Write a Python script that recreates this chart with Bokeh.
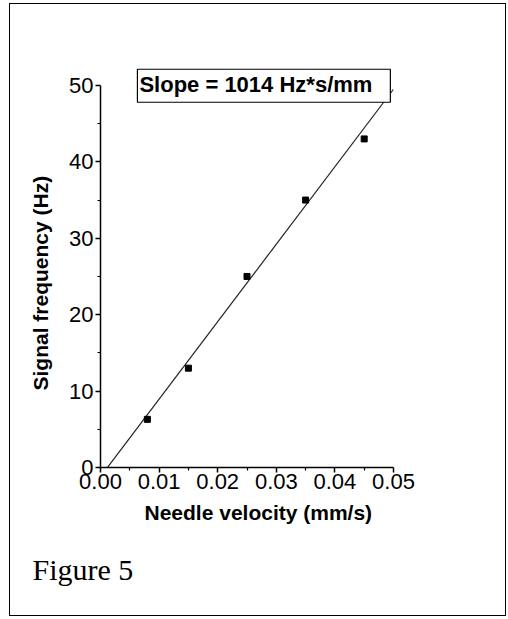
from bokeh.plotting import figure
from bokeh.models import Label, Title, FixedTicker, Range1d, NumeralTickFormatter
from bokeh.embed import file_html
from bokeh.resources import INLINE

# Data
velocity = [0.008, 0.015, 0.025, 0.035, 0.045]      # mm/s
frequency = [6.3, 13.0, 25.0, 35.0, 43.0]           # Hz
slope = 1014.0                                      # Hz*s/mm
intercept = -1.2                                    # Hz
fit_x = [0.0012, 0.05]
fit_y = [slope * x + intercept for x in fit_x]
x_ticks = [0.0, 0.01, 0.02, 0.03, 0.04, 0.05]
x_minor = [0.005, 0.015, 0.025, 0.035, 0.045]
y_ticks = [0, 10, 20, 30, 40, 50]
y_minor = [5, 15, 25, 35, 45]
slope_text = "Slope = 1014 Hz*s/mm"
x_label = "Needle velocity (mm/s)"
y_label = "Signal frequency (Hz)"
caption = "Figure 5"

W, H = 497, 613
p = figure(width=W, height=H, output_backend="svg", toolbar_location=None,
           x_range=Range1d(0, 0.05), y_range=Range1d(0, 53.0),
           min_border_left=90, min_border_right=114, min_border_top=58,
           min_border_bottom=150)
p.styles = {"border": "1px solid black", "margin": "3px 0px 0px 9px"}
p.outline_line_color = None
p.xgrid.visible = False
p.ygrid.visible = False

p.line(fit_x, fit_y, line_color="#222222", line_width=1.2)
p.scatter(velocity, frequency, marker="square", size=6, color="black")

for ax in (p.xaxis, p.yaxis):
    ax.axis_line_width = 1.5
    ax.major_tick_line_width = 1.5
    ax.minor_tick_line_width = 1.2
    ax.major_tick_in = 0
    ax.major_tick_out = 5
    ax.minor_tick_in = 0
    ax.minor_tick_out = 3
    ax.major_label_text_font = "Liberation Sans"
    ax.major_label_text_font_size = "22px"
    ax.major_label_text_color = "black"

p.xaxis.ticker = FixedTicker(ticks=x_ticks, minor_ticks=x_minor)
p.yaxis.ticker = FixedTicker(ticks=y_ticks, minor_ticks=y_minor)
p.yaxis.bounds = (0, 50)
p.xaxis.formatter = NumeralTickFormatter(format="0.00")
p.xaxis.major_label_standoff = 1
p.yaxis.major_label_standoff = 2

lbl = Label(x=0.0063, y=47.8, text=slope_text, text_font="Liberation Sans",
            text_font_size="22px", text_font_style="bold", text_color="black",
            text_align="left", text_baseline="bottom",
            border_line_color="black", border_line_width=1.2,
            background_fill_color="white", padding=(2, 18, 3, 5))
p.add_layout(lbl)

yt = Title(text=y_label, text_font="Liberation Sans", text_font_size="21px",
           text_font_style="bold", text_color="black", align="left",
           offset=77, standoff=30)
p.add_layout(yt, "left")

xt = Title(text=x_label, text_font="Liberation Sans", text_font_size="21px",
           text_font_style="bold", text_color="black", align="left",
           offset=44, standoff=14)
p.add_layout(xt, "below")

t = Title(text=caption, text_font="Liberation Serif", text_font_size="30px",
          text_font_style="normal", text_color="black", align="left",
          offset=-68, standoff=40)
p.add_layout(t, "below")

open("out.html", "w").write(file_html(p, INLINE))
